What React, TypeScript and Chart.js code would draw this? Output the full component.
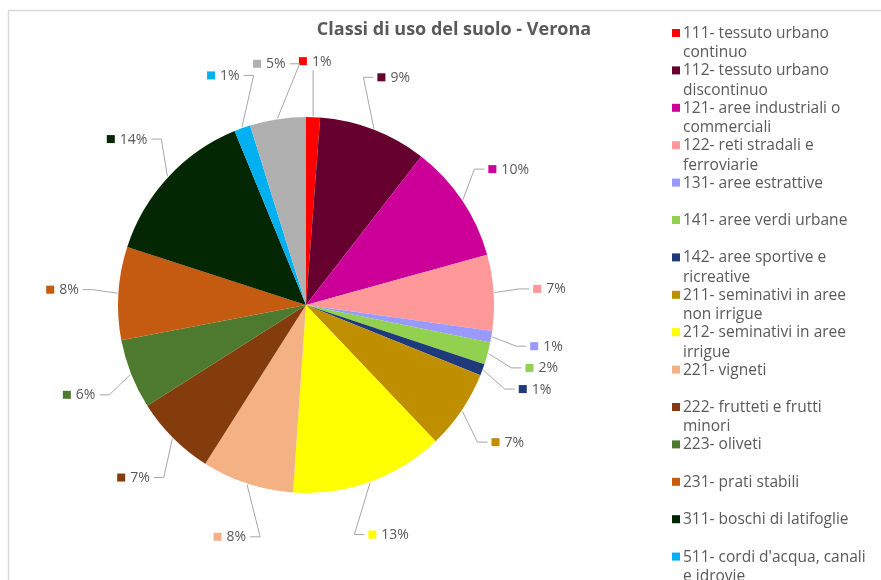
import React, { useEffect, useRef } from "react";
import { Chart, registerables } from "chart.js";

Chart.register(...registerables);

const TITLE = "Classi di uso del suolo - Verona";

const categories: string[] = [
  "111- tessuto urbano continuo",
  "112- tessuto urbano discontinuo",
  "121- aree industriali o commerciali",
  "122- reti stradali e ferroviarie",
  "131- aree estrattive",
  "141- aree verdi urbane",
  "142- aree sportive e ricreative",
  "211- seminativi in aree non irrigue",
  "212- seminativi in aree irrigue",
  "221- vigneti",
  "222- frutteti e frutti minori",
  "223- oliveti",
  "231- prati stabili",
  "311- boschi di latifoglie",
  "511- cordi d'acqua, canali e idrovie",
  "512- bacini d'acqua",
];

const shares: number[] = [1.2, 9.3, 10.2, 6.5, 1.0, 1.9, 1.0, 6.8, 13.2, 7.9, 7.0, 6.0, 8.0, 13.8, 1.4, 4.8];

const colors: string[] = [
  "#FF0000",
  "#66002E",
  "#CC0099",
  "#FF9999",
  "#9999FF",
  "#92D050",
  "#1F3A7A",
  "#BF8F00",
  "#FFFF00",
  "#F4B183",
  "#843C0C",
  "#4E7A30",
  "#C55A11",
  "#032603",
  "#00B0F0",
  "#B0B0B0",
];

const TEXT_COLOR = "#595959";
const FONT_FAMILY = "'Open Sans', Lato, sans-serif";
const LABEL_GAP = 56;

const overlay = {
  id: "overlay",
  afterDraw(chart: any) {
    const ctx: CanvasRenderingContext2D = chart.ctx;
    const ds = chart.data.datasets[0];
    const data: number[] = ds.data as number[];
    const total = data.reduce((a, b) => a + b, 0);
    const meta = chart.getDatasetMeta(0);
    ctx.save();

    // frame
    ctx.strokeStyle = "#D9D9D9";
    ctx.lineWidth = 1.5;
    ctx.strokeRect(8.5, 10.5, 1000, 700);

    // title
    ctx.fillStyle = TEXT_COLOR;
    ctx.font = `bold 18px ${FONT_FAMILY}`;
    ctx.textAlign = "center";
    ctx.textBaseline = "middle";
    ctx.fillText(TITLE, 454, 30);

    // data labels
    ctx.font = `14px ${FONT_FAMILY}`;
    ctx.textAlign = "left";
    meta.data.forEach((arc: any, i: number) => {
      const p = arc.getProps(["x", "y", "startAngle", "endAngle", "outerRadius"], true);
      const mid = (p.startAngle + p.endAngle) / 2;
      const cos = Math.cos(mid);
      const sin = Math.sin(mid);
      const text = Math.round((data[i] / total) * 100) + "%";
      const tw = ctx.measureText(text).width;
      const bw = 8 + 5 + tw;
      const lx = p.x + cos * (p.outerRadius + LABEL_GAP);
      const ly = p.y + sin * (p.outerRadius + LABEL_GAP);
      const left = lx - bw / 2;
      const right = lx + bw / 2;

      // leader line
      const px = p.x + cos * (p.outerRadius + 1);
      const py = p.y + sin * (p.outerRadius + 1);
      let pts: [number, number][] = [];
      if (Math.abs(lx - p.x) < bw * 0.6) {
        const ey = ly < p.y ? ly + 9 : ly - 9;
        pts = [[px, py], [px, ey]];
      } else if (lx > p.x) {
        const ex = left - 4;
        pts = [[px, py], [ex - 10, ly], [ex, ly]];
      } else {
        const ex = right + 4;
        pts = [[px, py], [ex + 10, ly], [ex, ly]];
      }
      const last = pts[pts.length - 1];
      const dist = Math.hypot(last[0] - px, last[1] - py);
      if (dist > 14) {
        ctx.strokeStyle = "#A6A6A6";
        ctx.lineWidth = 1;
        ctx.beginPath();
        ctx.moveTo(pts[0][0], pts[0][1]);
        for (let k = 1; k < pts.length; k++) ctx.lineTo(pts[k][0], pts[k][1]);
        ctx.stroke();
      }

      ctx.fillStyle = colors[i];
      ctx.fillRect(left, ly - 4, 8, 8);
      ctx.fillStyle = TEXT_COLOR;
      ctx.fillText(text, left + 13, ly + 0.5);
    });

    // legend
    const LX = 672;
    const LTX = 683;
    const LY0 = 33;
    const STEP = 37.4;
    const LINE = 19.5;
    const MAXW = 185;
    ctx.font = `15.5px ${FONT_FAMILY}`;
    ctx.textBaseline = "middle";
    chart.data.labels.forEach((label: string, i: number) => {
      const y0 = LY0 + i * STEP;
      const words = label.split(" ");
      const lines: string[] = [];
      let cur = "";
      words.forEach((w) => {
        const test = cur ? cur + " " + w : w;
        if (ctx.measureText(test).width > MAXW && cur) {
          lines.push(cur);
          cur = w;
        } else cur = test;
      });
      if (cur) lines.push(cur);
      ctx.fillStyle = colors[i];
      ctx.fillRect(LX, y0 - 4, 8, 8);
      ctx.fillStyle = TEXT_COLOR;
      lines.forEach((ln, k) => ctx.fillText(ln, LTX, y0 + k * LINE + 0.5));
    });

    ctx.restore();
  },
};

export default function App() {
  const ref = useRef<HTMLCanvasElement | null>(null);
  useEffect(() => {
    if (!ref.current) return;
    const chart = new Chart(ref.current, {
      type: "pie",
      data: {
        labels: categories,
        datasets: [
          {
            data: shares,
            backgroundColor: colors,
            borderWidth: 0,
          },
        ],
      },
      options: {
        responsive: false,
        animation: false,
        layout: { padding: { top: 117, bottom: 87, left: 118, right: 387 } },
        plugins: {
          legend: { display: false },
          title: { display: false },
          tooltip: { enabled: false },
        },
      },
      plugins: [overlay],
    });
    return () => chart.destroy();
  }, []);
  return (
    <div style={{ position: "absolute", left: 0, top: 0, width: 881, height: 580, background: "#fff" }}>
      <canvas ref={ref} width={881} height={580} style={{ display: "block" }} />
    </div>
  );
}
